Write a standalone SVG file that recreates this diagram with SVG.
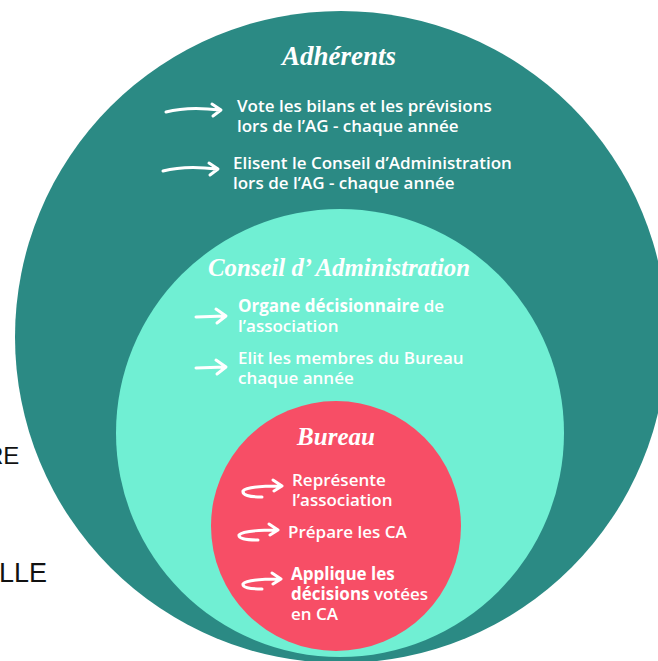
<svg xmlns="http://www.w3.org/2000/svg" width="658" height="661" viewBox="0 0 658 661">
<style>
.t{font-family:"Open Sans","Noto Sans",sans-serif;font-size:17px;font-weight:600;fill:#ffffff}
.b{font-weight:700}
.h{font-family:"Liberation Serif","DejaVu Serif",serif;font-style:italic;font-weight:700;fill:#ffffff;text-anchor:middle}
.a{fill:none;stroke:#ffffff;stroke-width:3;stroke-linecap:round;stroke-linejoin:round}
.side{font-family:"Liberation Sans",Arial,sans-serif;fill:#111111}
</style>
<rect width="658" height="661" fill="#ffffff"/>
<text class="side" x="-14" y="464" font-size="24">RE</text>
<text class="side" x="-1" y="582" font-size="27">LLE</text>
<g id="adherents">
<circle cx="341" cy="337" r="326" fill="#2b8a84"/>
<text class="h" x="339" y="65" font-size="27">Adhérents</text>
<text class="t" x="237" y="112">Vote les bilans et les prévisions<tspan x="237" dy="20">lors de l’AG - chaque année</tspan></text>
<text class="t" x="233" y="169">Elisent le Conseil d’Administration<tspan x="233" dy="20">lors de l’AG - chaque année</tspan></text>
</g>
<g id="conseil">
<circle cx="340" cy="433" r="224" fill="#70efd3"/>
<text class="h" x="339" y="276" font-size="26" textLength="262" lengthAdjust="spacingAndGlyphs">Conseil d’ Administration</text>
<text class="t" x="238" y="312"><tspan class="b">Organe décisionnaire</tspan> de<tspan x="238" dy="20">l’association</tspan></text>
<text class="t" x="238" y="364">Elit les membres du Bureau<tspan x="238" dy="20">chaque année</tspan></text>
</g>
<g id="bureau">
<circle cx="336" cy="526" r="125" fill="#f74e66"/>
<text class="h" x="336" y="445" font-size="25">Bureau</text>
<text class="t" x="292" y="486">Représente<tspan x="292" dy="20">l’association</tspan></text>
<text class="t" x="288" y="538">Prépare les CA</text>
<text class="t" x="291" y="580"><tspan class="b">Applique les</tspan><tspan x="291" dy="20" class="b">décisions</tspan> votées<tspan x="291" dy="20">en CA</tspan></text>
</g>
<g id="connectors">
<path class="a" d="M166 112 Q188 106 220 110 M212 104 L221 110 L213 116"/>
<path class="a" d="M163 171 Q185 165 217 169 M209 163 L218 169 L210 175"/>
<path class="a" d="M196 317 L225 316 M216 309 L226 316 L217 323"/>
<path class="a" d="M196 368 L225 367 M216 360 L226 367 L217 374"/>
<path class="a" d="M262 497 Q242 497 243 491 Q247 486 281 486 M273 480 L282 486 L274 491"/>
<path class="a" d="M258 540 Q238 540 239 535 Q243 530 277 530 M269 524 L278 530 L270 535"/>
<path class="a" d="M262 589 Q242 589 243 584 Q247 579 280 579 M272 573 L281 579 L273 584"/>
</g>
</svg>
